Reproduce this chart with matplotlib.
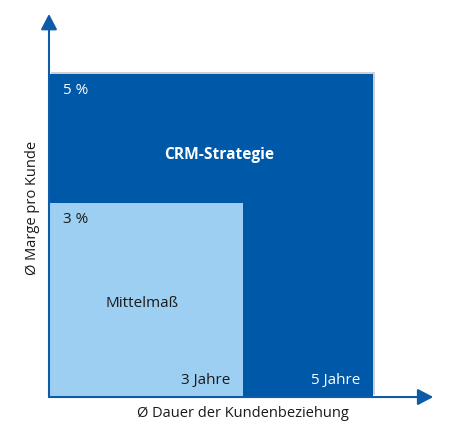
import matplotlib
matplotlib.use("Agg")
import matplotlib.pyplot as plt

# Daten
kategorien = ["CRM-Strategie", "Mittelmaß"]
dauer_jahre = [5, 3]       # Ø Dauer der Kundenbeziehung
marge_prozent = [5, 3]     # Ø Marge pro Kunde
farben = ["#0058A8", "#9DCFF2"]
textfarben = ["white", "#1a1a1a"]

plt.rcParams["font.family"] = ["Open Sans", "DejaVu Sans"]

fig = plt.figure(figsize=(4.62, 4.33), dpi=100)
ax = fig.add_axes([0, 0, 1, 1])
ax.set_xlim(-0.756, 6.373)
ax.set_ylim(-0.557, 6.146)
ax.axis("off")

# leichter Schatten hinter dem großen Feld
ax.bar(0.03, marge_prozent[0], width=dauer_jahre[0], bottom=0.03, align="edge",
       color="#d0d0d0", zorder=1)

for d, m, c in zip(dauer_jahre, marge_prozent, farben):
    ax.bar(0, m, width=d, align="edge", color=c, zorder=2)

# Beschriftungen in den Feldern
for d, m, tc in zip(dauer_jahre, marge_prozent, textfarben):
    ax.text(0.22, m - 0.25, f"{m} %", color=tc, fontsize=11, ha="left", va="center", zorder=3)
    ax.text(d - 0.2, 0.25, f"{d} Jahre", color=tc, fontsize=11, ha="right", va="center", zorder=3)

ax.text(2.62, 3.75, kategorien[0], color="white", fontsize=11.2, fontweight="bold",
        ha="center", va="center", zorder=3)
ax.text(1.43, 1.45, kategorien[1], color="#1a1a1a", fontsize=11,
        ha="center", va="center", zorder=3)

# Achsenpfeile
pfeil = dict(arrowstyle="-|>,head_length=0.63,head_width=0.33", color="#0E5CA8",
             lw=1.5, mutation_scale=15, shrinkA=0, shrinkB=0)
ax.annotate("", xy=(5.93, 0), xytext=(0, 0), arrowprops=pfeil, zorder=4)
ax.annotate("", xy=(0, 5.93), xytext=(0, 0), arrowprops=pfeil, zorder=4)

ax.text(3.0, -0.26, "Ø Dauer der Kundenbeziehung", color="#1a1a1a", fontsize=10.5,
        ha="center", va="center")
ax.text(-0.26, 2.93, "Ø Marge pro Kunde", color="#1a1a1a", fontsize=10.5,
        ha="center", va="center", rotation=90)

fig.savefig("out.png", dpi=100)
